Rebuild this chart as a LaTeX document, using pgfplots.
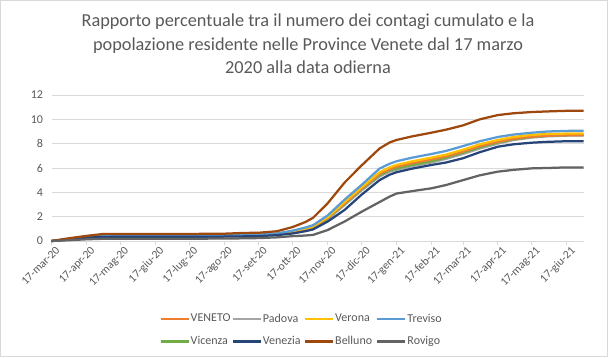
\documentclass[border=0pt]{standalone}
\usepackage{pgfplots}
\pgfplotsset{compat=1.18}
\usepackage{pgfplotstable}
\usepackage{fontspec}
\setmainfont{Carlito}
\definecolor{cVeneto}{HTML}{ED7D31}
\definecolor{cPadova}{HTML}{A5A5A5}
\definecolor{cVerona}{HTML}{FFC000}
\definecolor{cTreviso}{HTML}{5B9BD5}
\definecolor{cVicenza}{HTML}{70AD47}
\definecolor{cVenezia}{HTML}{264478}
\definecolor{cBelluno}{HTML}{9E480E}
\definecolor{cRovigo}{HTML}{636363}
\definecolor{txt}{HTML}{595959}
\definecolor{grd}{HTML}{D9D9D9}

\pgfplotstableread{
day Veneto Padova Verona Treviso Vicenza Venezia Belluno Rovigo
0   0     0     0     0     0     0     0     0
15  0.14  0.14  0.15  0.15  0.14  0.12  0.22  0.06
31  0.34  0.33  0.35  0.35  0.34  0.28  0.42  0.14
45  0.44  0.43  0.45  0.45  0.44  0.33  0.57  0.18
61  0.45  0.44  0.46  0.47  0.45  0.35  0.58  0.19
92  0.45  0.44  0.46  0.47  0.45  0.35  0.58  0.19
122 0.45  0.44  0.46  0.47  0.45  0.35  0.58  0.19
153 0.46  0.45  0.47  0.48  0.46  0.36  0.60  0.20
170 0.47  0.46  0.48  0.50  0.47  0.38  0.66  0.22
184 0.49  0.48  0.50  0.52  0.49  0.40  0.68  0.24
200 0.58  0.56  0.60  0.62  0.58  0.48  0.80  0.30
214 0.75  0.72  0.80  0.85  0.74  0.62  1.15  0.40
225 0.95  0.92  1.00  1.10  0.94  0.80  1.55  0.45
232 1.15  1.10  1.20  1.30  1.12  0.95  1.90  0.50
245 1.90  1.80  1.95  2.10  1.85  1.60  3.10  0.90
260 3.10  2.95  3.20  3.40  3.05  2.55  4.80  1.60
275 4.30  4.15  4.40  4.60  4.25  3.80  6.20  2.40
291 5.50  5.30  5.65  5.95  5.40  5.00  7.60  3.20
300 5.90  5.70  6.05  6.35  5.80  5.45  8.10  3.65
306 6.10  5.85  6.25  6.55  5.95  5.65  8.30  3.90
320 6.40  6.15  6.55  6.85  6.25  5.95  8.60  4.10
337 6.70  6.45  6.85  7.15  6.55  6.25  8.90  4.33
350 6.95  6.75  7.10  7.40  6.85  6.45  9.15  4.60
365 7.35  7.15  7.50  7.80  7.25  6.80  9.50  5.00
380 7.80  7.60  7.95  8.20  7.70  7.30  10.00 5.40
396 8.15  8.00  8.30  8.55  8.10  7.75  10.35 5.70
410 8.40  8.30  8.55  8.75  8.35  7.95  10.50 5.85
426 8.57  8.50  8.72  8.90  8.55  8.08  10.60 5.97
440 8.65  8.60  8.80  9.00  8.65  8.15  10.65 6.00
457 8.69  8.66  8.83  9.05  8.70  8.20  10.70 6.05
472 8.70  8.68  8.84  9.06  8.72  8.20  10.70 6.05
}\datatable

\begin{document}
\begin{tikzpicture}[x=1bp,y=1bp]
\draw[grd, line width=0.8bp] (0.5,0.5) rectangle (607.5,356.5);
\node[text=txt, font=\fontsize{18.3bp}{23.5bp}\selectfont, align=center] at (308,313)
  {Rapporto percentuale tra il numero dei contagi cumulato e la\\
   popolazione residente nelle Province Venete dal 17 marzo\\
   2020 alla data odierna};
\begin{axis}[
  at={(51.5bp,116bp)}, anchor=south west,
  scale only axis, width=532bp, height=146bp,
  xmin=0, xmax=472, ymin=0, ymax=12,
  ytick={0,2,...,12},
  xtick={0,31,61,92,122,153,184,214,245,275,306,337,365,396,426,457},
  xticklabels={17-mar-20,17-apr-20,17-mag-20,17-giu-20,17-lug-20,17-ago-20,17-set-20,17-ott-20,17-nov-20,17-dic-20,17-gen-21,17-feb-21,17-mar-21,17-apr-21,17-mag-21,17-giu-21},
  axis x line*=bottom, axis y line*=left,
  x axis line style={grd, line width=0.8bp, -},
  y axis line style={draw=none},
  ytick style={draw=none},
  xtick style={grd, line width=0.8bp},
  xtick align=outside, major tick length=4bp,
  ymajorgrids, grid style={grd, line width=0.8bp},
  tick label style={text=txt, font=\fontsize{12bp}{14bp}\selectfont},
  xticklabel style={font=\fontsize{11.5bp}{14bp}\selectfont},
  /pgf/number format/assume math mode=true,
  yticklabel style={xshift=-5bp},
  xticklabel style={rotate=45, anchor=north east, inner sep=1bp, xshift=3bp, yshift=-2bp},
  clip=false,
  legend columns=4,
  legend style={at={(0.4746,-0.61)}, anchor=center, draw=none, fill=none,
    font=\fontsize{12bp}{14bp}\selectfont, text=txt,
    /tikz/every even column/.append style={column sep=0bp},
    row sep=11bp,
    nodes={text width=40bp, inner xsep=1bp, inner ysep=1bp}},
  legend cell align=left,
  legend image code/.code={\draw[#1, line width=2.25bp] (0bp,0bp) -- (28bp,0bp);},
  every axis plot/.append style={line width=2.25bp, line join=round},
]
\addlegendimage{cVeneto}\addlegendentry{VENETO}
\addlegendimage{cPadova}\addlegendentry{Padova}
\addlegendimage{cVerona}\addlegendentry{Verona}
\addlegendimage{cTreviso}\addlegendentry{Treviso}
\addlegendimage{cVicenza}\addlegendentry{Vicenza}
\addlegendimage{cVenezia}\addlegendentry{Venezia}
\addlegendimage{cBelluno}\addlegendentry{Belluno}
\addlegendimage{cRovigo}\addlegendentry{Rovigo}
\addplot[cPadova, forget plot] table[x=day, y=Padova] {\datatable};
\addplot[cVicenza, forget plot] table[x=day, y=Vicenza] {\datatable};
\addplot[cVeneto, forget plot] table[x=day, y=Veneto] {\datatable};
\addplot[cVerona, forget plot] table[x=day, y=Verona] {\datatable};
\addplot[cTreviso, forget plot] table[x=day, y=Treviso] {\datatable};
\addplot[cVenezia, forget plot] table[x=day, y=Venezia] {\datatable};
\addplot[cBelluno, forget plot] table[x=day, y=Belluno] {\datatable};
\addplot[cRovigo, forget plot] table[x=day, y=Rovigo] {\datatable};
\end{axis}
\pgfresetboundingbox
\path[use as bounding box] (0,0) rectangle (608,357);
\end{tikzpicture}
\end{document}
